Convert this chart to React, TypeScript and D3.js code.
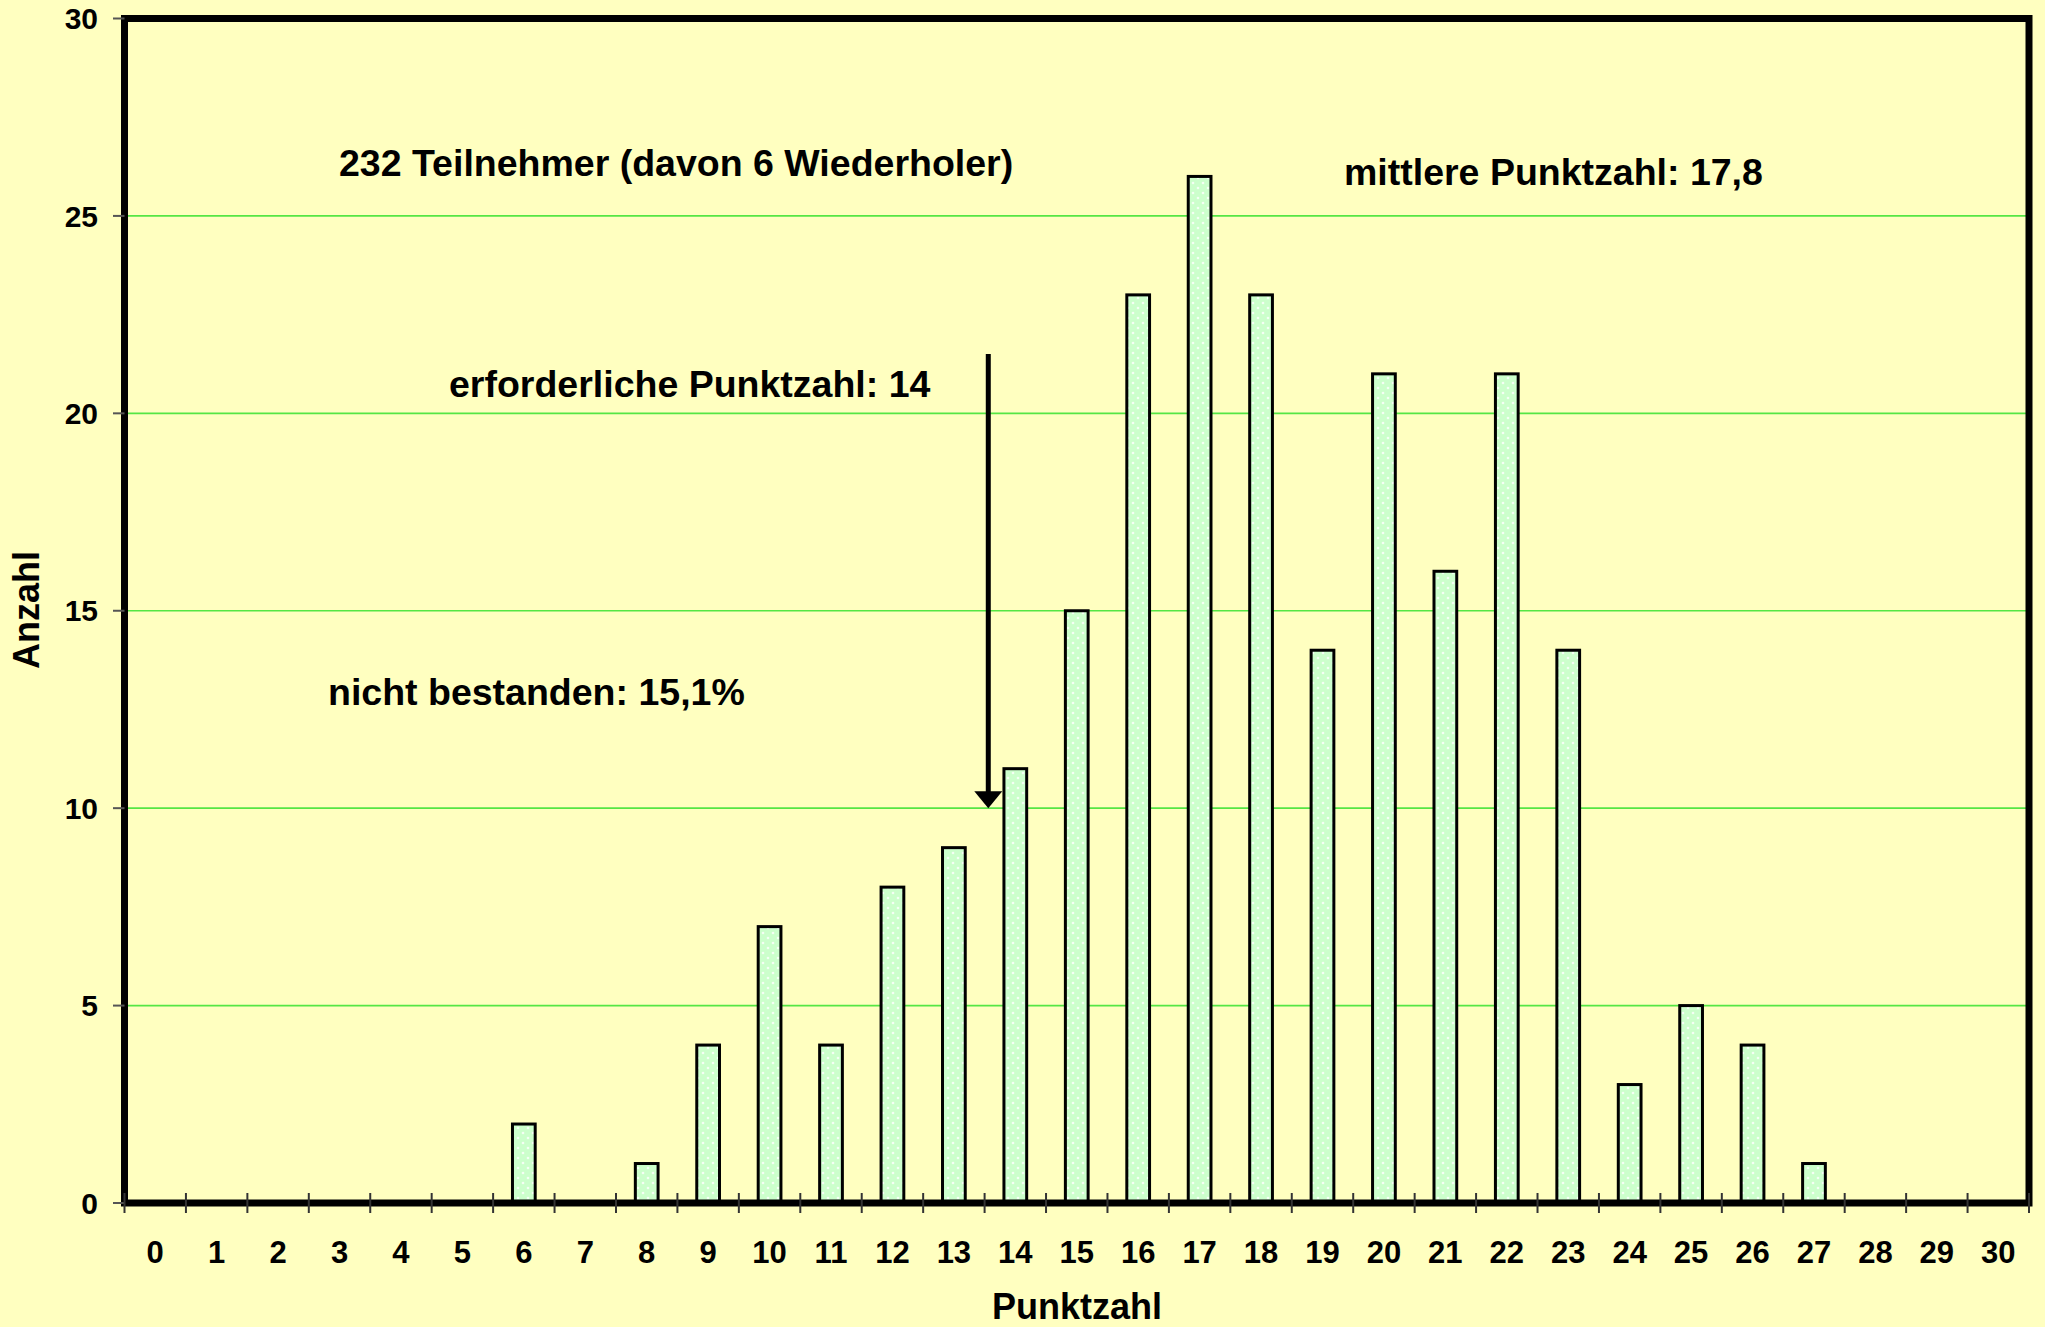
import React, { useEffect, useRef } from "react";
import * as d3 from "d3";

// Punktzahl 0..30 and number of participants per score
const scores = d3.range(0, 31).map(String);
const counts = [0, 0, 0, 0, 0, 0, 2, 0, 1, 4, 7, 4, 8, 9, 11, 15, 23, 26, 23, 14, 21, 16, 21, 14, 3, 5, 4, 1, 0, 0, 0];
const yTicks = [0, 5, 10, 15, 20, 25, 30];
const gridValues = [5, 10, 15, 20, 25];

const annotations = [
  { text: "232 Teilnehmer (davon 6 Wiederholer)", x: 339, y: 176 },
  { text: "mittlere Punktzahl: 17,8", x: 1344, y: 185 },
  { text: "erforderliche Punktzahl: 14", x: 449, y: 397 },
  { text: "nicht bestanden: 15,1%", x: 328, y: 705 },
];
// arrow pointing at the pass mark (score 14) from ~21.5 down to 10
const arrow = { score: 14.06, from: 21.5, to: 10 };

const W = 2045;
const H = 1327;
const FONT = "'Liberation Sans', Arial, sans-serif";

const App = () => {
  const svgRef = useRef(null);

  useEffect(() => {
    const svg = d3.select(svgRef.current);
    svg.selectAll("*").remove();

    const left = 124.5, right = 2029, top = 18.5, bottom = 1203;

    const x = d3.scaleBand().domain(scores).range([left, right]).padding(0);
    const xLin = d3.scaleLinear().domain([0, scores.length]).range([left, right]);
    const y = d3.scaleLinear().domain([0, 30]).range([bottom, top]);
    const bw = x.bandwidth() * 0.37;

    // dotted fill pattern like the original
    const defs = svg.append("defs");
    const pat = defs
      .append("pattern")
      .attr("id", "dots")
      .attr("patternUnits", "userSpaceOnUse")
      .attr("width", 10)
      .attr("height", 10);
    pat.append("rect").attr("width", 10).attr("height", 10).attr("fill", "#ccffcc");
    pat.append("circle").attr("cx", 3).attr("cy", 3).attr("r", 1.3).attr("fill", "#f4fff4");
    pat.append("circle").attr("cx", 8).attr("cy", 8).attr("r", 1.3).attr("fill", "#f4fff4");

    svg.append("rect").attr("width", W).attr("height", H).attr("fill", "#ffffc0");

    // gridlines
    svg
      .selectAll("line.grid")
      .data(gridValues)
      .enter()
      .append("line")
      .attr("class", "grid")
      .attr("x1", left)
      .attr("x2", right)
      .attr("y1", (d) => y(d))
      .attr("y2", (d) => y(d))
      .attr("stroke", "#55e644")
      .attr("stroke-width", 1.6);

    // bars
    svg
      .selectAll("rect.bar")
      .data(counts.map((c, i) => ({ s: scores[i], c })).filter((d) => d.c > 0))
      .enter()
      .append("rect")
      .attr("class", "bar")
      .attr("x", (d) => x(d.s) + (x.bandwidth() - bw) / 2)
      .attr("y", (d) => y(d.c))
      .attr("width", bw)
      .attr("height", (d) => y(0) - y(d.c))
      .attr("fill", "url(#dots)")
      .attr("stroke", "#000")
      .attr("stroke-width", 3);

    // frame
    svg
      .append("rect")
      .attr("x", left)
      .attr("y", top)
      .attr("width", right - left)
      .attr("height", bottom - top)
      .attr("fill", "none")
      .attr("stroke", "#000")
      .attr("stroke-width", 7);

    // y ticks + labels
    svg
      .selectAll("line.yt")
      .data(yTicks)
      .enter()
      .append("line")
      .attr("x1", 113)
      .attr("x2", left)
      .attr("y1", (d) => y(d))
      .attr("y2", (d) => y(d))
      .attr("stroke", "#555")
      .attr("stroke-width", 2);
    svg
      .selectAll("text.yl")
      .data(yTicks)
      .enter()
      .append("text")
      .attr("x", 98)
      .attr("y", (d) => y(d) + 10.7)
      .attr("text-anchor", "end")
      .style("font", `bold 30px ${FONT}`)
      .text((d) => d);

    // x ticks at band edges
    svg
      .selectAll("line.xt")
      .data(d3.range(0, scores.length + 1))
      .enter()
      .append("line")
      .attr("x1", (d) => xLin(d))
      .attr("x2", (d) => xLin(d))
      .attr("y1", 1193)
      .attr("y2", 1213)
      .attr("stroke", "#333")
      .attr("stroke-width", 2);
    svg
      .selectAll("text.xl")
      .data(scores)
      .enter()
      .append("text")
      .attr("x", (d) => x(d) + x.bandwidth() / 2)
      .attr("y", 1263)
      .attr("text-anchor", "middle")
      .style("font", `bold 31px ${FONT}`)
      .text((d) => d);

    // axis titles
    svg
      .append("text")
      .attr("x", 1077)
      .attr("y", 1319)
      .attr("text-anchor", "middle")
      .style("font", `bold 36px ${FONT}`)
      .text("Punktzahl");
    svg
      .append("text")
      .attr("transform", "translate(39,610) rotate(-90)")
      .attr("text-anchor", "middle")
      .style("font", `bold 36px ${FONT}`)
      .text("Anzahl");

    // arrow
    const ax = xLin(arrow.score);
    svg
      .append("line")
      .attr("x1", ax)
      .attr("x2", ax)
      .attr("y1", y(arrow.from))
      .attr("y2", y(arrow.to) - 12)
      .attr("stroke", "#000")
      .attr("stroke-width", 5);
    svg
      .append("path")
      .attr("d", `M${ax - 14},${y(arrow.to) - 17} L${ax + 14},${y(arrow.to) - 17} L${ax},${y(arrow.to)} Z`)
      .attr("fill", "#000");

    // annotations
    svg
      .selectAll("text.note")
      .data(annotations)
      .enter()
      .append("text")
      .attr("x", (d) => d.x)
      .attr("y", (d) => d.y)
      .style("font", `bold 37.5px ${FONT}`)
      .text((d) => d.text);
  }, []);

  return (
    <svg
      ref={svgRef}
      width={W}
      height={H}
      style={{ position: "absolute", left: 0, top: 0, display: "block" }}
    />
  );
};

export default App;
